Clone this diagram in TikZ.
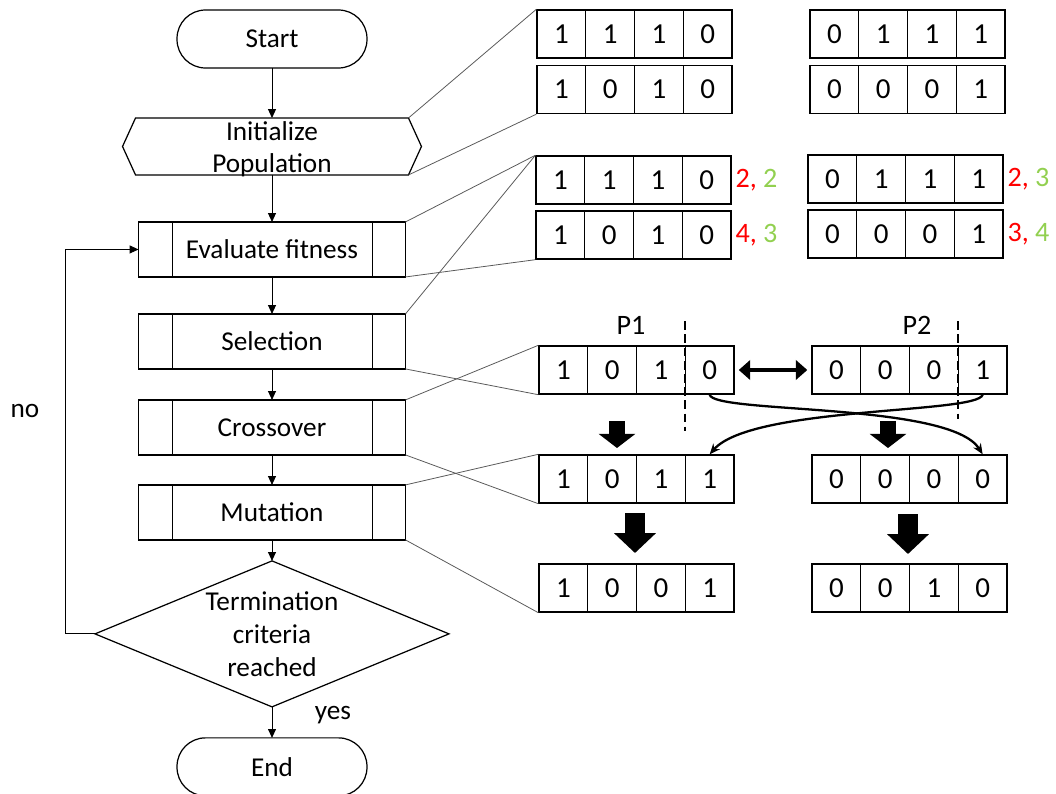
\documentclass[tikz,border=0pt]{standalone}
\usepackage{fontspec}
\setmainfont{Carlito}
\usetikzlibrary{positioning, arrows.meta, shapes.geometric}

\definecolor{fitred}{HTML}{FF0000}
\definecolor{fitgreen}{HTML}{92D050}

\newcommand{\bitrow}[4]{%
	\foreach \b [count=\i] in {#4}
		\node[cell] (#1-\i) at ({#2+24.4+(\i-1)*48.75}, #3) {\b};
}

\begin{document}
\begin{tikzpicture}[
	x=0.02cm, y=-0.02cm,
	font=\fontsize{15.5}{18}\selectfont,
	terminal/.style={draw, rectangle, rounded corners=0.57cm, minimum width=3.8cm, minimum height=1.16cm, outer sep=0, line width=0.7pt},
	process/.style={draw, rectangle, minimum width=5.34cm, minimum height=1.1cm, outer sep=0, line width=0.7pt,
		path picture={\draw[line width=0.7pt] ([xshift=0.68cm]path picture bounding box.north west) -- ([xshift=0.68cm]path picture bounding box.south west)
			([xshift=-0.66cm]path picture bounding box.north east) -- ([xshift=-0.66cm]path picture bounding box.south east);}},
	prep/.style={rectangle, minimum width=5.46cm, minimum height=1.14cm, inner sep=0, outer sep=0},
	decision/.style={draw, diamond, minimum width=7.08cm, minimum height=2.92cm, inner sep=0, outer sep=0, line width=0.7pt},
	flow/.style={-{Triangle[length=5pt, width=4.5pt]}, line width=0.5pt},
	link/.style={gray!70!black, line width=0.45pt},
	cell/.style={draw, rectangle, minimum width=0.975cm, minimum height=0.96cm, inner sep=0, line width=0.8pt, font=\fontsize{16.5}{18}\selectfont},
	score/.style={inner sep=1pt, font=\fontsize{16}{18}\selectfont},
	cut/.style={line width=1.1pt, dash pattern=on 5pt off 2.5pt},
	swap/.style={-{Stealth[length=6pt, width=5pt]}, line width=1.3pt},
	exchange/.style={{Triangle[length=6.5pt, width=11pt]}-{Triangle[length=6.5pt, width=11pt]}, line width=2.8pt, shorten <=2.3pt, shorten >=2.3pt},
	smallblock/.style={-{Triangle[length=8pt, width=20.4pt]}, line width=9.6pt},
	bigblock/.style={-{Triangle[length=11.3pt, width=23.2pt]}, line width=11.9pt}
	]
	\useasboundingbox (0,0) rectangle (1056,794);

	\node[terminal] (start) at (272,39) {Start};
	\node[prep, below=1cm of start, label={[align=center, yshift=-0.06cm, font=\fontsize{15.5}{18}\selectfont]center:Initialize\\Population}] (init) {};
	\draw[line width=0.7pt] (init.north west) -- (init.north east) -- ([xshift=0.26cm]init.east) -- (init.south east) -- (init.south west) -- ([xshift=-0.26cm]init.west) -- cycle;
	\node[process, below=0.94cm of init] (eval) {Evaluate fitness};
	\node[process, below=0.74cm of eval] (select) {Selection};
	\node[process, below=0.62cm of select] (cross) {Crossover};
	\node[process, below=0.6cm of cross] (mutate) {Mutation};
	\node[decision, below=0.42cm of mutate, label={[align=center, font=\fontsize{15.5}{18.7}\selectfont]center:Termination\\criteria\\reached}] (term) {};
	\node[terminal, below=0.62cm of term] (stop) {End};

	\draw[flow] (start) -- (init);
	\draw[flow] (init) -- (eval);
	\draw[flow] (eval) -- (select);
	\draw[flow] (select) -- (cross);
	\draw[flow] (cross) -- (mutate);
	\draw[flow] (mutate) -- (term);
	\draw[flow] (term) -- (stop);
	\draw[flow] (term.west) -- ++(-30,0) |- (eval.west);

	\node (yes) at (333,715) {yes};
	\node (no) at (25,411) {no};

	\bitrow{popA}{537}{34}{1,1,1,0}
	\bitrow{popB}{537}{89.5}{1,0,1,0}
	\bitrow{popC}{810}{34}{0,1,1,1}
	\bitrow{popD}{810}{89.5}{0,0,0,1}

	\bitrow{fitA}{536}{180}{1,1,1,0}
	\bitrow{fitB}{536}{235}{1,0,1,0}
	\bitrow{fitC}{808}{179}{0,1,1,1}
	\bitrow{fitD}{808}{234}{0,0,0,1}

	\node[score, right=1pt of fitA-4] (scA) {\textcolor{fitred}{2,} \textcolor{fitgreen}{2}};
	\node[score, right=1pt of fitB-4] (scB) {\textcolor{fitred}{4,} \textcolor{fitgreen}{3}};
	\node[score, right=1pt of fitC-4] (scC) {\textcolor{fitred}{2,} \textcolor{fitgreen}{3}};
	\node[score, right=1pt of fitD-4] (scD) {\textcolor{fitred}{3,} \textcolor{fitgreen}{4}};

	\bitrow{par1}{539}{370}{1,0,1,0}
	\bitrow{par2}{812}{370}{0,0,0,1}
	\bitrow{child1}{539}{479}{1,0,1,1}
	\bitrow{child2}{812}{479}{0,0,0,0}
	\bitrow{mutant1}{539}{588}{1,0,0,1}
	\bitrow{mutant2}{812}{588}{0,0,1,0}

	\node[font=\fontsize{16}{18}\selectfont] (lbA) at (631,325) {P1};
	\node[font=\fontsize{16}{18}\selectfont] (lbB) at (917,325) {P2};

	\draw[cut] ([yshift=0.48cm]par1-4.north west) -- ([yshift=-0.72cm]par1-4.south west);
	\draw[cut] ([yshift=0.48cm]par2-4.north west) -- ([yshift=-0.48cm]par2-4.south west);

	\draw[exchange] (par1-4.east) -- (par2-1.west);
	\draw[swap] (par1-4.south) .. controls (714,414) and (950,402) .. (child2-4.north);
	\draw[swap] (par2-4.south) .. controls (978,414) and (752,406) .. (child1-4.north);

	\coordinate (dA) at (617,421);
	\coordinate (dB) at (888,421);
	\coordinate (dC) at (635,513);
	\coordinate (dD) at (908,514);
	\draw[smallblock] (dA) -- ++(0,27);
	\draw[smallblock] (dB) -- ++(0,27);
	\draw[bigblock] (dC) -- ++(0,40);
	\draw[bigblock] (dD) -- ++(0,40);

	\draw[link] (init.north east) -- (popA-1.north west);
	\draw[link] (init.south east) -- (popB-1.south west);
	\draw[link] (eval.north east) -- (fitA-1.north west);
	\draw[link] (eval.south east) -- (fitB-1.south west);
	\draw[link] (select.north east) -- (fitA-1.north west);
	\draw[link] (select.south east) -- (par1-1.south west);
	\draw[link] (cross.north east) -- (par1-1.north west);
	\draw[link] (cross.south east) -- (child1-1.south west);
	\draw[link] (mutate.north east) -- (child1-1.north west);
	\draw[link] (mutate.south east) -- (mutant1-1.south west);

\end{tikzpicture}
\end{document}
